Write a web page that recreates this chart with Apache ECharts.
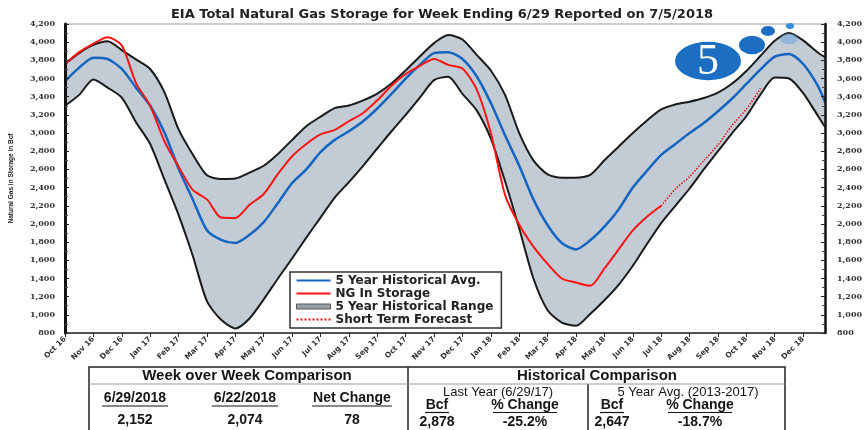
<!DOCTYPE html>
<html>
<head>
<meta charset="utf-8">
<script src="https://cdn.jsdelivr.net/npm/echarts@6/dist/echarts.min.js"></script>
<style>
  html, body { margin: 0; padding: 0; background: #fff; }
  #chart { width: 866px; height: 430px; }
</style>
</head>
<body>
<div id="chart"></div>
<script>
// month tick labels, one per month from Oct 2016
const monthLabels = ['Oct 16', 'Nov 16', 'Dec 16', 'Jan 17', 'Feb 17', 'Mar 17', 'Apr 17', 'May 17', 'Jun 17',
  'Jul 17', 'Aug 17', 'Sep 17', 'Oct 17', 'Nov 17', 'Dec 17', 'Jan 18', 'Feb 18', 'Mar 18', 'Apr 18',
  'May 18', 'Jun 18', 'Jul 18', 'Aug 18', 'Sep 18', 'Oct 18', 'Nov 18', 'Dec 18'];

// sample positions in months after Oct 2016 (half month steps)
const monthPos = [0, 0.5, 1, 1.5, 2, 2.5, 3, 3.5, 4, 4.5, 5, 5.5, 6, 6.5, 7, 7.5, 8, 8.5, 9, 9.5,
  10, 10.5, 11, 11.5, 12, 12.5, 13, 13.5, 14, 14.5, 15, 15.5, 16, 16.5, 17, 17.5, 18, 18.5, 19, 19.5,
  20, 20.5, 21, 21.5, 22, 22.5, 23, 23.5, 24, 24.5, 25, 25.5, 26, 26.5, 26.77];

// Bcf
const rangeMax = [3760, 3880, 3970, 4010, 3913, 3810, 3705, 3450, 3040, 2765,
  2535, 2495, 2500, 2565, 2640, 2770, 2925, 3075, 3180, 3275,
  3303, 3360, 3435, 3545, 3690, 3843, 3990, 4078, 4030, 3860,
  3688, 3420, 3000, 2700, 2545, 2508, 2508, 2540, 2700, 2850,
  3000, 3138, 3260, 3315, 3345, 3385, 3445, 3545, 3683, 3850,
  4015, 4100, 4020, 3890, 3836];
const rangeMin = [3300, 3420, 3590, 3500, 3390, 3120, 2880, 2490, 2100, 1650,
  1150, 945, 850, 960, 1170, 1400, 1620, 1850, 2070, 2290,
  2460, 2640, 2830, 3020, 3200, 3390, 3583, 3620, 3430, 3250,
  2940, 2470, 1950, 1400, 1050, 915, 880, 1010, 1160, 1330,
  1540, 1780, 2010, 2200, 2390, 2600, 2800, 3000, 3185, 3425,
  3610, 3600, 3440, 3200, 3066];
const avg5yr = [3570, 3720, 3830, 3815, 3705, 3500, 3300, 3010, 2610, 2270,
  1930, 1825, 1790, 1880, 2020, 2230, 2450, 2600, 2790, 2925,
  3020, 3130, 3270, 3430, 3600, 3750, 3880, 3890, 3815, 3625,
  3330, 2975, 2640, 2270, 1985, 1790, 1720, 1820, 1970, 2160,
  2400, 2585, 2760, 2880, 3000, 3110, 3240, 3380, 3540, 3700,
  3840, 3870, 3760, 3530, 3341];
const storage = [3760, 3890, 3985, 4055, 3965, 3550, 3300, 2910, 2630, 2375,
  2270, 2070, 2065, 2210, 2330, 2550, 2745, 2880, 2985, 3035,
  3130, 3220, 3360, 3520, 3650, 3740, 3815, 3750, 3710, 3480,
  3000, 2320, 1990, 1750, 1560, 1400, 1355, 1320, 1510, 1720,
  1930, 2080, 2200, null, null, null, null, null, null, null,
  null, null, null, null, null];
const forecast = [null, null, null, null, null, null, null, null, null, null,
  null, null, null, null, null, null, null, null, null, null,
  null, null, null, null, null, null, null, null, null, null,
  null, null, null, null, null, null, null, null, null, null,
  null, null, 2200, 2385, 2520, 2695, 2870, 3085, 3262, 3490,
  null, null, null, null, null];

// table texts
const weekHeads = ['6/29/2018', '6/22/2018', 'Net Change'];
const weekValues = ['2,152', '2,074', '78'];
const histHeads = ['Last Year (6/29/17)', '5 Year Avg. (2013-2017)'];
const histSubHeads = ['Bcf', '% Change', 'Bcf', '% Change'];
const histValues = ['2,878', '-25.2%', '2,647', '-18.7%'];

const pairs = arr => arr.map((v, i) => [monthPos[i], v]);

const chart = echarts.init(document.getElementById('chart'));

const TF = '"Liberation Sans", Arial, sans-serif';
const ink = '#151515';

// 把表格画成 graphic 元素
const tableEls = [];
const txt = (x, y, s, font) => ({
  type: 'text', x, y, z: 10,
  style: { text: s, font, fill: ink, align: 'center', verticalAlign: 'middle' }
});
const uline = (x, y, w) => ({
  type: 'line', z: 10,
  shape: { x1: x - w / 2, y1: y, x2: x + w / 2, y2: y },
  style: { stroke: ink, lineWidth: 1.2 }
});
tableEls.push({ type: 'rect', z: 9, shape: { x: 89, y: 367, width: 696, height: 80 },
  style: { fill: '#fff', stroke: '#222', lineWidth: 1.5 } });
tableEls.push({ type: 'line', z: 10, shape: { x1: 408, y1: 367, x2: 408, y2: 430 }, style: { stroke: '#222', lineWidth: 1.5 } });
tableEls.push({ type: 'line', z: 10, shape: { x1: 588, y1: 384, x2: 588, y2: 430 }, style: { stroke: '#222', lineWidth: 1.5 } });
tableEls.push({ type: 'line', z: 10, shape: { x1: 89, y1: 384, x2: 785, y2: 384 }, style: { stroke: '#999', lineWidth: 1 } });
tableEls.push(txt(247, 375.5, 'Week over Week Comparison', `bold 15px ${TF}`));
tableEls.push(txt(597, 375.5, 'Historical Comparison', `bold 15px ${TF}`));

const weekX = [135, 245, 352];
const weekW = [66, 66, 80];
weekHeads.forEach((s, i) => {
  tableEls.push(txt(weekX[i], 398, s, `bold 14px ${TF}`));
  tableEls.push(uline(weekX[i], 406, weekW[i]));
});
weekValues.forEach((s, i) => tableEls.push(txt(weekX[i], 420, s, `bold 14px ${TF}`)));

tableEls.push(txt(498, 392, histHeads[0], `13px ${TF}`));
tableEls.push(txt(688, 392, histHeads[1], `13px ${TF}`));
const histX = [437, 525, 612, 700];
const histW = [24, 64, 24, 64];
histSubHeads.forEach((s, i) => {
  tableEls.push(txt(histX[i], 405, s, `bold 14px ${TF}`));
  tableEls.push(uline(histX[i], 412.5, histW[i]));
});
histValues.forEach((s, i) => tableEls.push(txt(histX[i], 422, s, `bold 14px ${TF}`)));

// logo bubbles
const logoBlue = '#1b6ec2';
const logoEls = [
  { type: 'circle', x: 708, y: 61, scaleY: 0.58, z: 8, shape: { cx: 0, cy: 0, r: 33 }, style: { fill: logoBlue } },
  { type: 'circle', x: 752, y: 45, scaleY: 0.72, z: 8, shape: { cx: 0, cy: 0, r: 13 }, style: { fill: logoBlue } },
  { type: 'circle', x: 768, y: 31, scaleY: 0.7, z: 8, shape: { cx: 0, cy: 0, r: 7 }, style: { fill: logoBlue } },
  { type: 'circle', x: 790, y: 26, scaleY: 0.75, z: 8, shape: { cx: 0, cy: 0, r: 4 }, style: { fill: '#3b8fe0' } },
  { type: 'circle', x: 789, y: 39, scaleY: 0.6, z: 8, shape: { cx: 0, cy: 0, r: 9 }, style: { fill: 'rgba(110,165,220,0.55)' } },
  { type: 'text', x: 708, y: 62, z: 9,
    style: { text: '5', font: '44px "Liberation Serif", serif', fill: '#fff', align: 'center', verticalAlign: 'middle' } }
];

const yLabel = {
  fontFamily: '"DejaVu Serif", serif', fontWeight: 'bold', fontSize: 8, color: '#333',
  formatter: v => v.toLocaleString('en-US')
};

// legend icons: thin line, thick bar, dotted line
const lineIcon = 'path://M0,0 L34,0 L34,2 L0,2 Z';
const barIcon = 'path://M0,0 L34,0 L34,5 L0,5 Z';
const dotIcon = 'path://M0,0h2v2h-2z M4,0h2v2h-2z M8,0h2v2h-2z M12,0h2v2h-2z M16,0h2v2h-2z M20,0h2v2h-2z M24,0h2v2h-2z M28,0h2v2h-2z M32,0h2v2h-2z';

const option = {
  animation: false,
  backgroundColor: '#fff',
  title: {
    text: 'EIA Total Natural Gas Storage for Week Ending 6/29 Reported on 7/5/2018',
    left: 437, top: 3, textAlign: 'center',
    textStyle: { fontFamily: '"DejaVu Sans", sans-serif', fontWeight: 'bold', fontSize: 13, color: '#222' }
  },
  grid: { left: 63, right: 41, top: 24, bottom: 97, show: true, borderColor: '#999', borderWidth: 1 },
  legend: {
    orient: 'vertical', left: 290, top: 272,
    backgroundColor: '#fff', borderColor: '#333', borderWidth: 1.5,
    padding: [2, 8, 2, 6], itemGap: 0, itemWidth: 34, itemHeight: 10,
    textStyle: { fontFamily: '"DejaVu Sans", sans-serif', fontWeight: 'bold', fontSize: 12, color: '#222', lineHeight: 13 },
    data: [
      { name: '5 Year Historical Avg.', icon: lineIcon, itemStyle: { color: '#1565c0' } },
      { name: 'NG In Storage', icon: lineIcon, itemStyle: { color: '#ff1414' } },
      { name: '5 Year Historical Range', icon: barIcon,
        itemStyle: { color: '#96a0aa', borderColor: '#555', borderWidth: 1 } },
      { name: 'Short Term Forecast', icon: dotIcon, itemStyle: { color: '#e01010' } }
    ]
  },
  xAxis: {
    type: 'value', min: 0, max: 26.77, interval: 1, z: 5,
    axisLine: { lineStyle: { color: '#222', width: 1.5 } },
    axisTick: { length: 4, lineStyle: { color: '#222' } },
    splitLine: { show: false },
    axisLabel: {
      rotate: 45, margin: 5, showMaxLabel: false,
      fontFamily: '"DejaVu Sans", sans-serif', fontWeight: 'bold', fontSize: 7.5, color: '#333',
      formatter: v => monthLabels[v] || ''
    }
  },
  yAxis: [
    {
      type: 'value', min: 800, max: 4200, interval: 200, z: 5,
      name: 'Natural Gas in Storage in Bcf', nameLocation: 'middle', nameGap: 50,
      nameTextStyle: { fontFamily: '"Liberation Sans", sans-serif', fontWeight: 'bold', fontSize: 6.5, color: '#222' },
      axisLine: { show: true, lineStyle: { color: '#111', width: 3 } },
      axisTick: { inside: true, length: 4, lineStyle: { color: '#222' } },
      minorTick: { show: true, splitNumber: 2, length: 3, lineStyle: { color: '#444' } },
      splitLine: { show: false },
      axisLabel: Object.assign({ margin: 10 }, yLabel)
    },
    {
      type: 'value', min: 800, max: 4200, interval: 200, position: 'right', z: 5,
      axisLine: { show: true, lineStyle: { color: '#111', width: 2.5 } },
      axisTick: { inside: true, length: 4, lineStyle: { color: '#222' } },
      minorTick: { show: true, splitNumber: 2, length: 3, lineStyle: { color: '#444' } },
      splitLine: { show: false },
      axisLabel: Object.assign({ margin: 12 }, yLabel)
    }
  ],
  series: [
    {
      name: '5 Year Historical Range', type: 'line', data: pairs(rangeMax),
      symbol: 'none', smooth: 0.25,
      lineStyle: { color: '#1a1a1a', width: 2 },
      itemStyle: { color: '#96a0aa' },
      areaStyle: { color: '#c3ccd5', opacity: 1, origin: 'start' }
    },
    {
      name: 'rangeMask', type: 'line', data: pairs(rangeMin),
      symbol: 'none', smooth: 0.25,
      lineStyle: { color: '#1a1a1a', width: 2 },
      areaStyle: { color: '#fff', opacity: 1, origin: 'start' }
    },
    {
      name: '5 Year Historical Avg.', type: 'line', data: pairs(avg5yr),
      symbol: 'none', smooth: 0.25,
      lineStyle: { color: '#1565c0', width: 2.5 }, itemStyle: { color: '#1565c0' }
    },
    {
      name: 'NG In Storage', type: 'line', data: pairs(storage),
      symbol: 'none', smooth: 0.25,
      lineStyle: { color: '#ff1414', width: 2 }, itemStyle: { color: '#ff1414' }
    },
    {
      name: 'Short Term Forecast', type: 'line', data: pairs(forecast),
      symbol: 'none', smooth: 0.25,
      lineStyle: { color: '#e01010', width: 1.5, type: 'dotted' }, itemStyle: { color: '#e01010' }
    }
  ],
  graphic: logoEls.concat(tableEls)
};

chart.setOption(option);
</script>
</body>
</html>
